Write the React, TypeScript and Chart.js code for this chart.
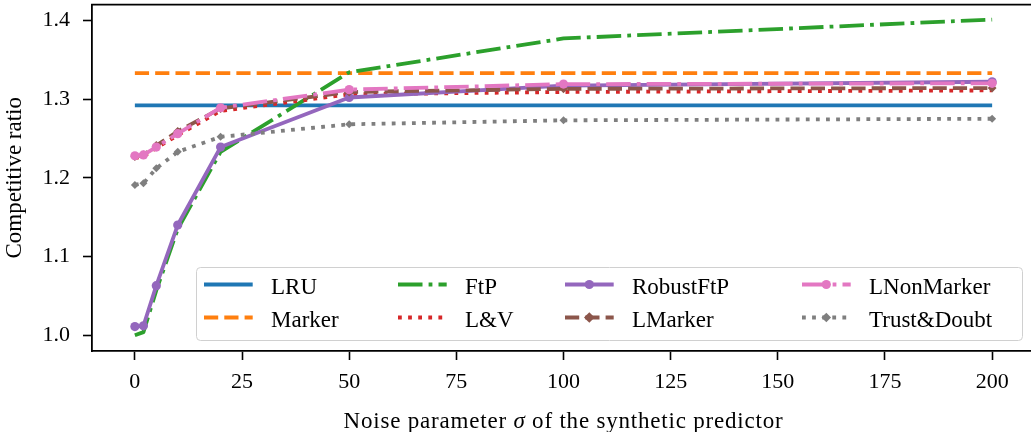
import React, { useEffect, useRef } from 'react';
import { Chart, registerables } from 'chart.js';

Chart.register(...registerables);

// ---- data ----
const sigma = [0, 2, 5, 10, 20, 50, 100, 200];
const lruRatio = [1.292, 1.292, 1.292, 1.292, 1.292, 1.292, 1.292, 1.292];
const markerRatio = [1.333, 1.333, 1.333, 1.333, 1.333, 1.333, 1.333, 1.333];
const ftpRatio = [1.0, 1.004, 1.057, 1.135, 1.233, 1.334, 1.377, 1.401];
const lvRatio = [1.225, 1.227, 1.238, 1.254, 1.285, 1.306, 1.309, 1.311];
const robustFtpRatio = [1.011, 1.012, 1.063, 1.14, 1.239, 1.302, 1.317, 1.322];
const lMarkerRatio = [1.227, 1.229, 1.241, 1.259, 1.288, 1.309, 1.313, 1.314];
const lNonMarkerRatio = [1.228, 1.229, 1.239, 1.256, 1.289, 1.312, 1.319, 1.32];
const trustDoubtRatio = [1.191, 1.193, 1.212, 1.233, 1.252, 1.268, 1.273, 1.275];

const xTicks = [0, 25, 50, 75, 100, 125, 150, 175, 200];
const yTicks = [1.0, 1.1, 1.2, 1.3, 1.4];

const seriesNames = ['LRU', 'Marker', 'FtP', 'L&V', 'RobustFtP', 'LMarker', 'LNonMarker', 'Trust&Doubt'];
const seriesValues = [lruRatio, markerRatio, ftpRatio, lvRatio, robustFtpRatio, lMarkerRatio, lNonMarkerRatio, trustDoubtRatio];

const xTitleParts = ['Noise parameter ', 'σ', ' of the synthetic predictor'];
const yTitle = 'Competitive ratio';

// ---- styles ----
const LW = 3.8;
const DASHED = [14.2, 6.1];
const DASHDOT = [24.5, 6.1, 3.8, 6.1];
const DOTTED = [3.8, 6.3];
const seriesStyles = [
  { color: '#1f77b4', dash: [] as number[], point: null as null | string, r: 0 },
  { color: '#ff7f0e', dash: DASHED, point: null, r: 0 },
  { color: '#2ca02c', dash: DASHDOT, point: null, r: 0 },
  { color: '#d62728', dash: DOTTED, point: null, r: 0 },
  { color: '#9467bd', dash: [], point: 'circle', r: 4.6 },
  { color: '#8c564b', dash: DASHED, point: 'rectRot', r: 4.4 },
  { color: '#e377c2', dash: DASHDOT, point: 'circle', r: 4.6 },
  { color: '#7f7f7f', dash: DOTTED, point: 'rectRot', r: 4 },
];

const FONT = "'Liberation Serif', 'Times New Roman', serif";
const TEXT_SIZE = 23;
const TICK_SIZE = 22;
const CANVAS_W = 1040;
const CANVAS_H = 432;

function drawMarker(ctx: CanvasRenderingContext2D, style: string, x: number, y: number, r: number, color: string) {
  ctx.save();
  ctx.setLineDash([]);
  ctx.fillStyle = color;
  ctx.beginPath();
  if (style === 'circle') {
    ctx.arc(x, y, r, 0, Math.PI * 2);
  } else {
    const d = r * 1.2;
    ctx.moveTo(x, y - d);
    ctx.lineTo(x + d, y);
    ctx.lineTo(x, y + d);
    ctx.lineTo(x - d, y);
    ctx.closePath();
  }
  ctx.fill();
  ctx.restore();
}

const decorPlugin = {
  id: 'decor',
  afterDatasetsDraw(chart: any) {
    const ctx: CanvasRenderingContext2D = chart.ctx;
    ctx.save();
    // legend box
    const bx = 196.5, by = 267.5, bw = 826, bh = 73, rad = 4;
    ctx.beginPath();
    ctx.moveTo(bx + rad, by);
    ctx.lineTo(bx + bw - rad, by);
    ctx.arcTo(bx + bw, by, bx + bw, by + rad, rad);
    ctx.lineTo(bx + bw, by + bh - rad);
    ctx.arcTo(bx + bw, by + bh, bx + bw - rad, by + bh, rad);
    ctx.lineTo(bx + rad, by + bh);
    ctx.arcTo(bx, by + bh, bx, by + bh - rad, rad);
    ctx.lineTo(bx, by + rad);
    ctx.arcTo(bx, by, bx + rad, by, rad);
    ctx.closePath();
    ctx.fillStyle = 'rgba(255,255,255,0.8)';
    ctx.fill();
    ctx.lineWidth = 1;
    ctx.strokeStyle = '#d0d0d0';
    ctx.stroke();

    const colX = [204, 398, 565, 802];
    const rowY = [284.5, 317.5];
    ctx.font = `${TEXT_SIZE}px ${FONT}`;
    ctx.textBaseline = 'alphabetic';
    ctx.textAlign = 'left';
    seriesNames.forEach((name, i) => {
      const st = seriesStyles[i];
      const x0 = colX[Math.floor(i / 2)];
      const y = rowY[i % 2];
      ctx.save();
      ctx.strokeStyle = st.color;
      ctx.lineWidth = LW;
      ctx.lineCap = 'butt';
      ctx.setLineDash(st.dash);
      ctx.beginPath();
      ctx.moveTo(x0, y);
      ctx.lineTo(x0 + 48.7, y);
      ctx.stroke();
      ctx.restore();
      if (st.point) drawMarker(ctx, st.point, x0 + 24.3, y, st.r, st.color);
      ctx.fillStyle = '#000';
      ctx.fillText(name, x0 + 67, y + 9);
    });
    ctx.restore();
  },
  afterDraw(chart: any) {
    const ctx: CanvasRenderingContext2D = chart.ctx;
    const a = chart.chartArea;
    ctx.save();
    ctx.strokeStyle = '#000';
    ctx.lineWidth = 1.8;
    ctx.setLineDash([]);
    ctx.beginPath();
    ctx.moveTo(a.left - 0.9, a.top);
    ctx.lineTo(a.right + 0.9, a.top);
    ctx.stroke();

    // x-axis title with italic sigma
    const anyCtx = ctx as any;
    anyCtx.letterSpacing = '0.8px';
    const fonts = [`${TEXT_SIZE}px ${FONT}`, `italic ${TEXT_SIZE}px ${FONT}`, `${TEXT_SIZE}px ${FONT}`];
    const widths = xTitleParts.map((t, i) => {
      ctx.font = fonts[i];
      return ctx.measureText(t).width;
    });
    const total = widths.reduce((s, w) => s + w, 0);
    let x = (a.left + a.right) / 2 - total / 2;
    ctx.fillStyle = '#000';
    ctx.textBaseline = 'alphabetic';
    ctx.textAlign = 'left';
    xTitleParts.forEach((t, i) => {
      ctx.font = fonts[i];
      ctx.fillText(t, x, 428);
      x += widths[i];
    });
    anyCtx.letterSpacing = '0px';
    ctx.restore();
  },
};

export default function App() {
  const ref = useRef<HTMLCanvasElement | null>(null);

  useEffect(() => {
    document.body.style.margin = '0';
    document.body.style.overflow = 'hidden';
    const canvas = ref.current;
    if (!canvas) return;

    const datasets = seriesNames.map((name, i) => {
      const st = seriesStyles[i];
      return {
        label: name,
        data: sigma.map((s, k) => ({ x: s, y: seriesValues[i][k] })),
        borderColor: st.color,
        backgroundColor: st.color,
        borderWidth: LW,
        borderDash: st.dash,
        borderCapStyle: 'butt' as const,
        borderJoinStyle: 'round' as const,
        pointStyle: st.point || 'circle',
        pointRadius: st.point ? st.r : 0,
        pointHoverRadius: st.point ? st.r : 0,
        pointBorderWidth: 0,
        pointBackgroundColor: st.color,
        tension: 0,
        fill: false,
        order: seriesNames.length - i,
      };
    });

    const chart = new Chart(canvas, {
      type: 'line',
      data: { datasets },
      options: {
        animation: false,
        responsive: false,
        devicePixelRatio: 1,
        layout: { padding: { left: 0, top: 1.4, right: 5, bottom: 0 } },
        plugins: { legend: { display: false }, tooltip: { enabled: false } },
        scales: {
          x: {
            type: 'linear',
            min: -10,
            max: 210,
            afterBuildTicks: (scale: any) => {
              scale.ticks = xTicks.map((v) => ({ value: v }));
            },
            afterFit: (scale: any) => {
              scale.height = 81;
              scale.paddingLeft = 0;
              scale.paddingRight = 0;
            },
            ticks: {
              color: '#000',
              font: { family: FONT, size: TICK_SIZE },
              padding: 9,
              maxRotation: 0,
              autoSkip: false,
              callback: (v: any) => String(v),
            },
            grid: {
              display: true,
              drawOnChartArea: false,
              drawTicks: true,
              tickLength: 9,
              tickWidth: 1.6,
              tickColor: '#000',
            },
            border: { display: true, color: '#000', width: 1.8 },
            title: { display: false },
          },
          y: {
            type: 'linear',
            min: 0.98,
            max: 1.42,
            afterBuildTicks: (scale: any) => {
              scale.ticks = yTicks.map((v) => ({ value: v }));
            },
            afterFit: (scale: any) => {
              scale.width = 92;
              scale.paddingTop = 0;
              scale.paddingBottom = 0;
            },
            ticks: {
              color: '#000',
              font: { family: FONT, size: TICK_SIZE },
              padding: 13,
              autoSkip: false,
              callback: (v: any) => Number(v).toFixed(1),
            },
            grid: {
              display: true,
              drawOnChartArea: false,
              drawTicks: true,
              tickLength: 9,
              tickWidth: 1.6,
              tickColor: '#000',
            },
            border: { display: true, color: '#000', width: 1.8 },
            title: {
              display: true,
              text: yTitle,
              color: '#000',
              font: { family: FONT, size: TEXT_SIZE, lineHeight: 1 },
              padding: { top: 3, bottom: 0 },
            },
          },
        },
      },
      plugins: [decorPlugin],
    } as any);

    return () => chart.destroy();
  }, []);

  return (
    <div style={{ width: CANVAS_W, height: CANVAS_H, overflow: 'hidden', position: 'relative' }}>
      <canvas
        ref={ref}
        width={CANVAS_W}
        height={CANVAS_H}
        style={{ display: 'block', width: CANVAS_W, height: CANVAS_H }}
      />
    </div>
  );
}
